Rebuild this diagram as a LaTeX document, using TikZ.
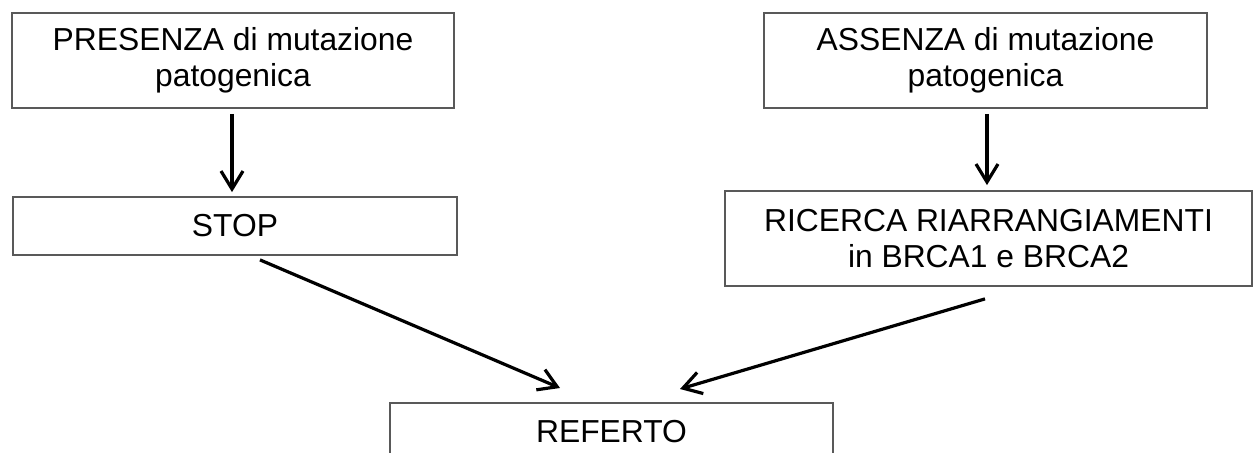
\documentclass[tikz,border=0pt]{standalone}
\usepackage{fontspec}
\setmainfont{Liberation Sans}
\usetikzlibrary{arrows.meta,calc}
\begin{document}
\begin{tikzpicture}[x=0.5pt, y=-0.5pt, >={Straight Barb[length=9pt,width=11pt,line width=1.6pt]},
  box/.style={draw=black!65, line width=0.9pt, inner sep=0pt, align=center,
    font=\fontsize{15.9}{17.8}\selectfont, minimum height=47.5pt},
  arr/.style={->, line width=1.6pt}]
\clip (0,0) rectangle (1253,453);
\node[box, minimum width=221pt] (pres) at (233,60.5) {PRESENZA di mutazione\\patogenica};
\node[box, minimum width=221.5pt] (ass) at (985.5,60.5) {ASSENZA di mutazione\\patogenica};
\node[box, minimum width=222pt, minimum height=29pt] (stop) at (235,226) {STOP};
\node[box, minimum width=263.5pt] (ric) at (988.5,238.5) {RICERCA RIARRANGIAMENTI\\in BRCA1 e BRCA2};
\node[box, minimum width=221.5pt, minimum height=29pt, anchor=north] (ref) at (611.5,402) {REFERTO};

\draw[arr] ($(pres.south)+(-1,5)$) -- ($(stop.north)+(-3,-4)$);
\draw[arr] ($(ass.south)+(1.5,5)$) -- ($(ric.north)+(-1.5,-5)$);
\draw[arr] ($(stop.south)+(25,4)$) -- ($(ref.north)+(-51.5,-14)$);
\draw[arr] ($(ric.south)+(-3.5,12)$) -- ($(ref.north)+(68.5,-13)$);
\end{tikzpicture}
\end{document}
